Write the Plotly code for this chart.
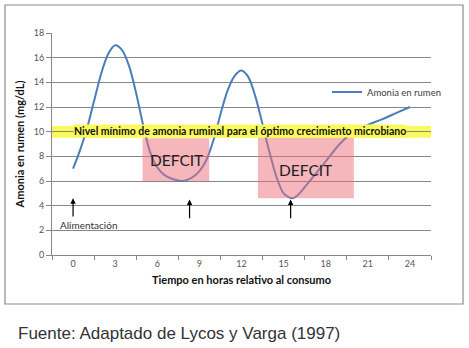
import plotly.graph_objects as go

# Ammonia concentration in the rumen (mg/dL) vs. hours after feeding
horas = [0, 0.5, 1, 1.5, 2, 2.5, 3, 3.5, 4, 4.5, 5, 5.5, 6, 6.5, 7, 7.75,
         8.5, 9, 9.5, 10, 10.5, 11, 11.5, 12, 12.5, 13, 13.5, 14, 14.5, 15,
         15.6, 16, 17, 18, 19, 20, 21, 22, 23, 24]
amonia = [7.0, 8.5, 10.3, 12.5, 14.7, 16.3, 17.0, 16.6, 15.3, 13.1, 10.5,
          8.3, 7.1, 6.5, 6.2, 6.0, 6.3, 6.8, 7.7, 9.3, 11.4, 13.3, 14.5,
          14.95, 14.4, 12.8, 10.6, 8.3, 6.3, 5.0, 4.6, 4.85, 6.2, 7.6, 9.0,
          10.05, 10.55, 11.0, 11.5, 12.0]

ticks_x = [0, 3, 6, 9, 12, 15, 18, 21, 24]
ticks_y = [0, 2, 4, 6, 8, 10, 12, 14, 16, 18]

nivel_minimo = (9.5, 10.45)           # optimal-growth threshold band
deficit_1 = (4.95, 9.7, 6.0, 9.46)    # x0, x1, y0, y1
deficit_2 = (13.17, 20.0, 4.6, 9.5)
flechas = [(0, 4.6, 3.0), (8.3, 4.5, 2.85), (15.5, 4.5, 2.85)]  # x, head, tail

CAL = "Lato, 'Open Sans', sans-serif"
GRID = "#878787"

fig = go.Figure()
fig.add_trace(go.Scatter(
    x=horas, y=amonia, mode="lines", name="Amonia en rumen",
    line=dict(color="#4a7ebb", width=2, shape="spline", smoothing=0.8),
))

# yellow threshold band (under the gridlines)
fig.add_shape(type="rect", xref="paper", yref="y", x0=0, x1=1,
              y0=nivel_minimo[0], y1=nivel_minimo[1], layer="below",
              fillcolor="#fafa5a", line_width=0)
fig.add_annotation(x=11.9, y=10.02, xref="x", yref="y",
                   text="<b>Nivel mínimo de amonia ruminal para el óptimo crecimiento microbiano</b>",
                   showarrow=False, font=dict(family=CAL, size=10.5, color="#111"),
                   bgcolor="#fafa5a", borderpad=0)

# deficit zones, translucent over the curve
for x0, x1, y0, y1 in (deficit_1, deficit_2):
    fig.add_shape(type="rect", xref="x", yref="y", x0=x0, x1=x1, y0=y0, y1=y1,
                  layer="above", fillcolor="rgba(236,112,122,0.5)", line_width=0)
fig.add_annotation(x=7.35, y=7.7, text="DEFCIT", showarrow=False,
                   font=dict(family=CAL, size=15.5, color="#222"))
fig.add_annotation(x=16.55, y=6.9, text="DEFCIT", showarrow=False,
                   font=dict(family=CAL, size=15.5, color="#222"))

# feeding arrows
for fx, head, tail in flechas:
    fig.add_annotation(x=fx, y=head, ax=fx, ay=tail, xref="x", yref="y",
                       axref="x", ayref="y", showarrow=True, arrowhead=2,
                       arrowsize=0.9, arrowwidth=1.2, arrowcolor="#000", text="")
fig.add_annotation(x=1.12, y=2.45, text="Alimentación", showarrow=False,
                   font=dict(family=CAL, size=10, color="#333"))

# outer chart frame
fig.add_shape(type="rect", xref="paper", yref="paper",
              x0=(5 - 52) / 379, x1=(463 - 52) / 379,
              y0=(255 - 304) / 222, y1=(255 - 5) / 222,
              line=dict(color="#8a8a8a", width=1.2), fillcolor="rgba(0,0,0,0)")

fig.add_annotation(xref="paper", yref="paper", x=(16 - 52) / 379, y=(255 - 333) / 222,
                   xanchor="left", yanchor="middle", showarrow=False,
                   text="Fuente: Adaptado de Lycos y Varga (1997)",
                   font=dict(family="Liberation Sans, Arial, sans-serif", size=17, color="#333"))

fig.update_layout(
    width=469, height=348,
    margin=dict(l=52, r=38, t=33, b=93),
    paper_bgcolor="white", plot_bgcolor="white",
    showlegend=True,
    legend=dict(x=(327 - 52) / 379, y=(255 - 92) / 222, xanchor="left", yanchor="middle",
                font=dict(family=CAL, size=9.5, color="#404040"),
                bgcolor="rgba(0,0,0,0)", itemwidth=30),
    xaxis=dict(range=[-1.5, 25.5], tickvals=ticks_x, ticks="",
               showgrid=False, zeroline=False, showline=True, linecolor=GRID, linewidth=1,
               minor=dict(tick0=-1.5, dtick=3, ticks="outside", ticklen=4, tickcolor=GRID,
                          showgrid=False),
               tickfont=dict(family=CAL, size=9, color="#555"),
               title=dict(text="<b>Tiempo en horas relativo al consumo</b>", standoff=8,
                          font=dict(family=CAL, size=11, color="#111"))),
    yaxis=dict(range=[0, 18], tickvals=ticks_y, ticks="outside", ticklen=5, tickcolor=GRID,
               showgrid=True, gridcolor=GRID, gridwidth=1, zeroline=False,
               showline=True, linecolor=GRID, linewidth=1,
               tickfont=dict(family=CAL, size=9, color="#555"),
               title=dict(text="<b>Amonia en rumen (mg/dL)</b>", standoff=6,
                          font=dict(family=CAL, size=11, color="#111"))),
)

fig.write_html("out.html")
